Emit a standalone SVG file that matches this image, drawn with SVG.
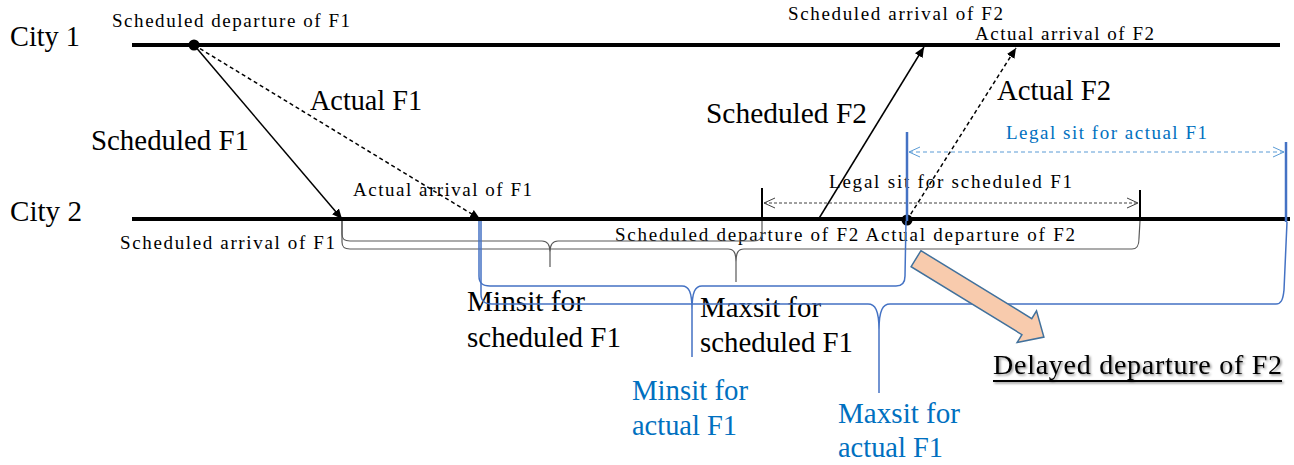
<svg xmlns="http://www.w3.org/2000/svg" width="1294" height="465" viewBox="0 0 1294 465">
<style>
text{font-family:"Liberation Serif","Times New Roman",serif;fill:#000}
.s{font-size:19px}
.b{font-size:29px}
.d{font-size:28px}
.blue{fill:#0070C0}
.city{stroke:#000;stroke-width:4;fill:none}
.fl{stroke:#000;stroke-width:1.5;fill:none}
.dash{stroke-dasharray:4 3}
.br{stroke:#595959;stroke-width:1.2;fill:none}
.bb{stroke:#4472C4;stroke-width:1.5;fill:none}
.tick{stroke:#000;stroke-width:2}
.btick{stroke:#4472C4;stroke-width:2.5}
</style>
<defs>
<marker id="ah" viewBox="0 0 10 10" refX="10" refY="5" markerWidth="10" markerHeight="10" markerUnits="userSpaceOnUse" orient="auto">
<path d="M0,0.5 L10,5 L0,9.5 z" fill="#000"/>
</marker>
<marker id="oa" viewBox="0 0 12 12" refX="11" refY="6" markerWidth="12" markerHeight="12" markerUnits="userSpaceOnUse" orient="auto-start-reverse">
<path d="M0,1 L11,6 L0,11" fill="none" stroke="#404040" stroke-width="1"/>
</marker>
<marker id="ob" viewBox="0 0 12 12" refX="11" refY="6" markerWidth="12" markerHeight="12" markerUnits="userSpaceOnUse" orient="auto-start-reverse">
<path d="M0,1 L11,6 L0,11" fill="none" stroke="#5B9BD5" stroke-width="1"/>
</marker>
<filter id="sh" x="-5%" y="-20%" width="110%" height="150%">
<feDropShadow dx="1.5" dy="1.5" stdDeviation="1" flood-color="#000" flood-opacity="0.45"/>
</filter>
</defs>

<g id="city1">
<line class="city" x1="132" y1="45" x2="1280" y2="45"/>
<text class="b" x="10" y="46" textLength="70" lengthAdjust="spacingAndGlyphs">City 1</text>
</g>
<g id="city2">
<line class="city" x1="132" y1="219" x2="1290" y2="219"/>
<text class="b" x="10" y="221" textLength="72" lengthAdjust="spacingAndGlyphs">City 2</text>
</g>

<g id="events">
<circle cx="194" cy="45" r="5.5" fill="#000"/>
<circle cx="907" cy="220" r="5.5" fill="#000"/>
<text class="s" x="112" y="27" textLength="238" lengthAdjust="spacing">Scheduled departure of F1</text>
<text class="s" x="353" y="196" textLength="179" lengthAdjust="spacing">Actual arrival of F1</text>
<text class="s" x="120" y="249" textLength="215" lengthAdjust="spacing">Scheduled arrival of F1</text>
<text class="s" x="788" y="20" textLength="215" lengthAdjust="spacing">Scheduled arrival of F2</text>
<text class="s" x="975" y="40" textLength="179" lengthAdjust="spacing">Actual arrival of F2</text>
<text class="s" x="615" y="241" textLength="460" lengthAdjust="spacing">Scheduled departure of F2 Actual departure of F2</text>
</g>

<g id="connectors">
<line class="fl" x1="194" y1="45" x2="342" y2="219" marker-end="url(#ah)"/>
<line class="fl dash" x1="194" y1="45" x2="480" y2="219" marker-end="url(#ah)"/>
<line class="fl" x1="818" y1="220" x2="924" y2="47" marker-end="url(#ah)"/>
<line class="fl dash" x1="907" y1="220" x2="1016" y2="48" marker-end="url(#ah)"/>
</g>

<g id="flight-labels">
<text class="b" x="310" y="110" textLength="112" lengthAdjust="spacingAndGlyphs">Actual F1</text>
<text class="b" x="91" y="150" textLength="158" lengthAdjust="spacingAndGlyphs">Scheduled F1</text>
<text class="b" x="706" y="123" textLength="161" lengthAdjust="spacingAndGlyphs">Scheduled F2</text>
<text class="b" x="997" y="100" textLength="114" lengthAdjust="spacingAndGlyphs">Actual F2</text>
</g>

<g id="legal-sit-scheduled">
<line class="tick" x1="762" y1="188" x2="762" y2="221"/>
<line class="tick" x1="1140" y1="190" x2="1140" y2="221"/>
<line x1="764" y1="203" x2="1138" y2="203" stroke="#404040" stroke-width="1" stroke-dasharray="3 2" marker-start="url(#oa)" marker-end="url(#oa)"/>
<text class="s" x="829" y="188" textLength="243" lengthAdjust="spacing">Legal sit  for scheduled F1</text>
</g>

<g id="legal-sit-actual">
<line class="btick" x1="907" y1="132" x2="907" y2="221"/>
<line class="btick" x1="1286" y1="142" x2="1286" y2="222"/>
<line x1="909" y1="152" x2="1284" y2="152" stroke="#5B9BD5" stroke-width="1" stroke-dasharray="4 3" marker-start="url(#ob)" marker-end="url(#ob)"/>
<text class="s blue" x="1006" y="139" textLength="201" lengthAdjust="spacing">Legal sit for actual F1</text>
</g>

<g id="minsit-scheduled">
<path class="br" d="M342,221 L342,234 C342,239 344,241 350,241 L542,241 C548,241 550,245 550,252 L550,267 M550,252 C550,245 552,241 558,241 L754,241 C759,241 762,238 762,233 L762,221"/>
<text class="b" x="467" y="311" textLength="118" lengthAdjust="spacingAndGlyphs">Minsit for</text>
<text class="b" x="467" y="347" textLength="154" lengthAdjust="spacingAndGlyphs">scheduled F1</text>
</g>

<g id="maxsit-scheduled">
<path class="br" d="M342,221 L342,242 C342,247 344,249 350,249 L728,249 C734,249 736,253 736,262 L736,282 M736,262 C736,253 738,249 744,249 L1132,249 C1137,249 1139,246 1139,238 L1140,221"/>
<text class="b" x="700" y="317" textLength="121" lengthAdjust="spacingAndGlyphs">Maxsit for</text>
<text class="b" x="700" y="352" textLength="153" lengthAdjust="spacingAndGlyphs">scheduled F1</text>
</g>

<g id="minsit-actual">
<path class="bb" d="M479,221 L479,276 C479,283 482,286 490,286 L682,286 C689,286 692,292 692,310 L692,357 M692,310 C692,292 695,286 702,286 L896,286 C902,286 905,282 905,276 L906,221"/>
<text class="b blue" x="632" y="400" textLength="116" lengthAdjust="spacingAndGlyphs">Minsit for</text>
<text class="b blue" x="632" y="435" textLength="105" lengthAdjust="spacingAndGlyphs">actual F1</text>
</g>

<g id="maxsit-actual">
<path class="bb" d="M481,221 L481,294 C481,301 484,304 492,304 L868,304 C875,304 879,310 879,330 L879,393 M879,330 C879,310 883,304 890,304 L1276,304 C1281,304 1283,300 1284,290 L1287,222"/>
<text class="b blue" x="838" y="423" textLength="122" lengthAdjust="spacingAndGlyphs">Maxsit for</text>
<text class="b blue" x="838" y="457" textLength="105" lengthAdjust="spacingAndGlyphs">actual F1</text>
</g>

<g id="delay">
<polygon points="0,-9.4 130,-9.4 130,-18.5 150,0 130,18.5 130,9.4 0,9.4" transform="translate(916,258.7) rotate(31.5)" fill="#F8CBAD" stroke="#41719C" stroke-width="1.5" stroke-linejoin="miter"/>
<g filter="url(#sh)">
<text class="d" x="993" y="374" textLength="289" lengthAdjust="spacing">Delayed departure of F2</text>
<line x1="993" y1="381" x2="1282" y2="381" stroke="#000" stroke-width="2"/>
</g>
</g>
</svg>
